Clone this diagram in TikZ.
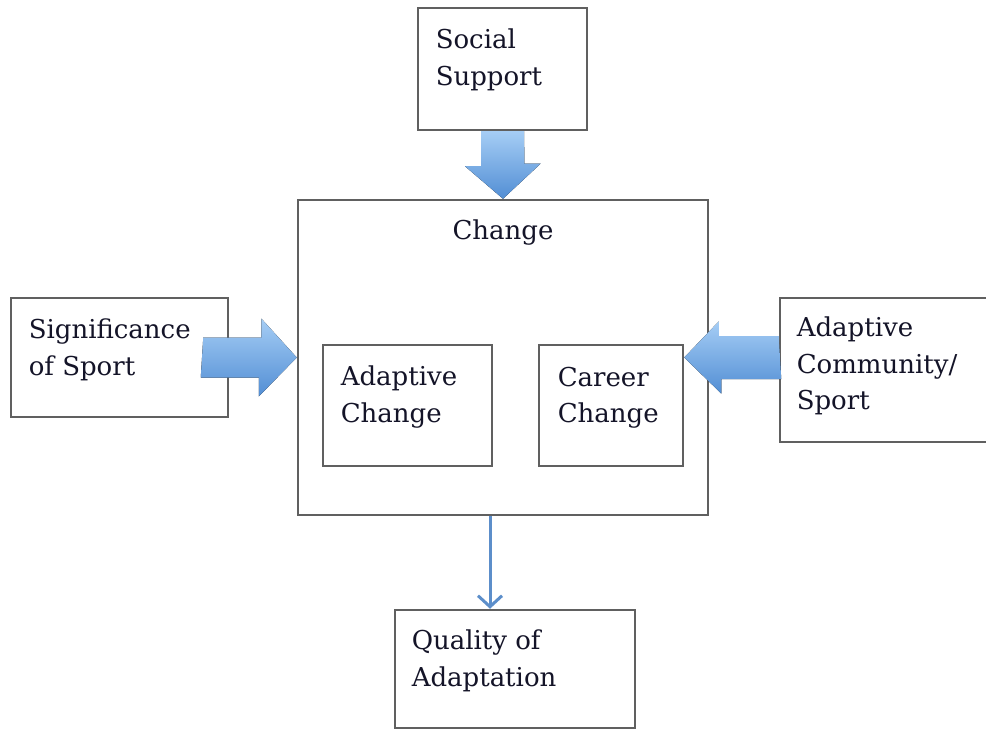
\documentclass[tikz,border=0pt]{standalone}
\usepackage{fontspec}
\newfontfamily\boxfont{DejaVu Serif}
\usepackage{tikz}
\usetikzlibrary{arrows.meta,positioning,calc}
\definecolor{boxgray}{RGB}{96,96,96}
\definecolor{flowtop}{RGB}{165,205,245}
\definecolor{flowbot}{RGB}{82,142,212}
\definecolor{linkblue}{RGB}{92,142,202}
\definecolor{txtdark}{RGB}{20,20,40}
\tikzstyle{framebox} = [rectangle, draw=boxgray, line width=2.5pt, fill=white, inner sep=0pt]
\tikzstyle{boxtext} = [inner sep=0pt, outer sep=0pt, align=left, text=txtdark, font=\boxfont\fontsize{26}{36.5}\selectfont]
\tikzstyle{flowarrow} = [top color=flowtop, bottom color=flowbot, draw=none]
\tikzstyle{link} = [line width=3pt, color=linkblue, -{Straight Barb[length=11pt,width=24pt,line width=3pt]}]

\begin{document}
\begin{tikzpicture}[x=1pt, y=-1pt]
\useasboundingbox (0,0) rectangle (986,730);
\clip (0,0) rectangle (986,730);
% Boxes
\node[framebox, minimum width=169pt, minimum height=122pt] (ss) at (502.5,69) {};
\node[framebox, minimum width=410pt, minimum height=315pt] (chg) at (503,357.5) {};
\node[framebox, minimum width=217pt, minimum height=119pt] (sig) at (119.5,357.5) {};
\node[framebox, minimum width=169pt, minimum height=121pt] (adc) at (407.5,405.5) {};
\node[framebox, minimum width=144pt, minimum height=121pt] (car) at (611,405.5) {};
\node[framebox, minimum width=230pt, minimum height=144pt] (acs) at (895,370) {};
\node[framebox, minimum width=240pt, minimum height=118pt] (qa) at (515,669) {};

% Texts
\node[boxtext, below right=22pt and 19pt of ss.north west] (ssT) {Social\\Support};
\node[boxtext, below=21pt of chg.north] (chgT) {Change};
\node[boxtext, below right=22pt and 19pt of sig.north west] (sigT) {Significance\\of Sport};
\node[boxtext, below right=22pt and 19pt of adc.north west] (adcT) {Adaptive\\Change};
\node[boxtext, below right=23pt and 20pt of car.north west] (carT) {Career\\Change};
\node[boxtext, below right=20pt and 18pt of acs.north west] (acsT) {Adaptive\\Community/\\Sport};
\node[boxtext, below right=21pt and 18pt of qa.north west] (qaT) {Quality of\\Adaptation};

% Block arrows
\fill[flowarrow] ([xshift=-21.5pt]ss.south) -- ++(0,35) -- ++(-16,0) -- (chg.north)
  -- ++(37.5,-35) -- ++(-16,0) -- ([xshift=21.5pt]ss.south) -- cycle;
\fill[flowarrow] ([xshift=-26pt,yshift=20pt]sig.east) -- ++(58,0) -- ++(0,-19) -- (chg.west)
  -- ++(-38,39) -- ++(0,-19) -- ++(-58,0) -- cycle;
\fill[flowarrow] ([yshift=21.5pt]acs.west |- chg.west) -- ++(-60,0) -- ++(0,-14.5) -- (car.east |- chg.west)
  -- ++(37,36) -- ++(0,-14.5) -- ++(60,0) -- cycle;

% Outcome
\draw[link] ([xshift=-13pt]chg.south) -- ([xshift=-13pt]chg.south |- qa.north);
\end{tikzpicture}
\end{document}
